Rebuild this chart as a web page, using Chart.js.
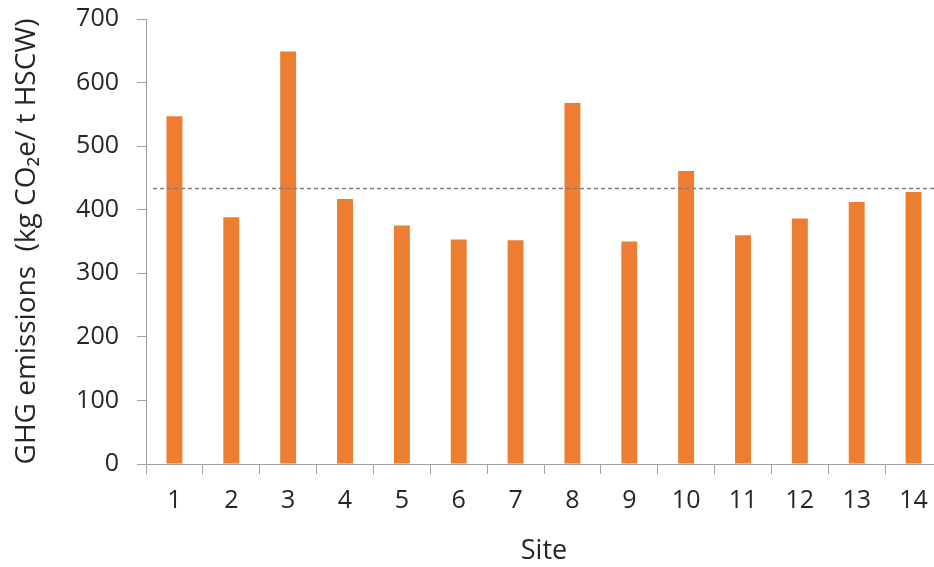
<!DOCTYPE html>
<html>
<head>
<meta charset="utf-8">
<script src="https://cdn.jsdelivr.net/npm/chart.js@4.4.1/dist/chart.umd.min.js"></script>
<style>
    html, body { margin: 0; padding: 0; background: #fff; overflow: hidden; }
    #wrap { width: 942px; height: 567px; }
</style>
</head>
<body>
<div id="wrap"><canvas id="ghgChart" width="942" height="567"></canvas></div>
<script>
// Data
const sites = ['1', '2', '3', '4', '5', '6', '7', '8', '9', '10', '11', '12', '13', '14'];
const emissions = [547, 388, 649, 417, 375, 353, 352, 568, 350, 461, 360, 386, 412, 428];
const averageEmission = 434;
const yTicks = [0, 100, 200, 300, 400, 500, 600, 700];

const axisColor = '#a0a0a0';
const textColor = '#262626';
const fontFamily = '"Open Sans", "Noto Sans", sans-serif';

// dashed average line across the plot
const averageLine = {
    id: 'averageLine',
    afterDatasetsDraw: (chart) => {
        const { ctx, chartArea, scales } = chart;
        const y = Math.round(scales.y.getPixelForValue(averageEmission)) + 0.5;
        ctx.save();
        ctx.strokeStyle = '#7f7f7f';
        ctx.lineWidth = 1.3;
        ctx.setLineDash([4, 3]);
        ctx.beginPath();
        ctx.moveTo(chartArea.left + 7, y);
        ctx.lineTo(chartArea.right, y);
        ctx.stroke();
        ctx.restore();
    }
};

new Chart(document.getElementById('ghgChart').getContext('2d'), {
    type: 'bar',
    data: {
        labels: sites,
        datasets: [{
            data: emissions,
            backgroundColor: '#ed7d31',
            borderWidth: 0,
            barPercentage: 0.28,
            categoryPercentage: 1
        }]
    },
    options: {
        responsive: false,
        animation: false,
        devicePixelRatio: 1,
        layout: { padding: { top: 19, left: 0, right: 0, bottom: 0 } },
        plugins: {
            legend: { display: false },
            tooltip: { enabled: false }
        },
        scales: {
            x: {
                offset: true,
                grid: {
                    offset: true,
                    drawOnChartArea: false,
                    tickLength: 10,
                    color: axisColor
                },
                border: { display: true, color: axisColor, width: 1 },
                ticks: {
                    color: textColor,
                    padding: 12,
                    maxRotation: 0,
                    font: { family: fontFamily, size: 25 }
                },
                title: {
                    display: true,
                    text: 'Site',
                    color: textColor,
                    padding: { top: 0, bottom: 2 },
                    font: { family: fontFamily, size: 27, lineHeight: 1 }
                },
                afterFit: (scale) => { scale.height = 103; }
            },
            y: {
                min: 0,
                max: 700,
                afterBuildTicks: (scale) => { scale.ticks = yTicks.map(v => ({ value: v })); },
                grid: {
                    drawOnChartArea: false,
                    tickLength: 9,
                    color: axisColor
                },
                border: { display: true, color: axisColor, width: 1 },
                ticks: {
                    color: textColor,
                    padding: 18,
                    font: { family: fontFamily, size: 25 }
                },
                title: {
                    display: true,
                    text: 'GHG emissions  (kg CO\u2082e/ t HSCW)',
                    color: textColor,
                    padding: { top: 10, bottom: 0 },
                    font: { family: fontFamily, size: 28, lineHeight: 1.2 }
                },
                afterFit: (scale) => {
                    scale.width = 146;
                    scale.paddingTop = 0;
                    scale.paddingBottom = 0;
                }
            }
        }
    },
    plugins: [averageLine]
});
</script>
</body>
</html>
